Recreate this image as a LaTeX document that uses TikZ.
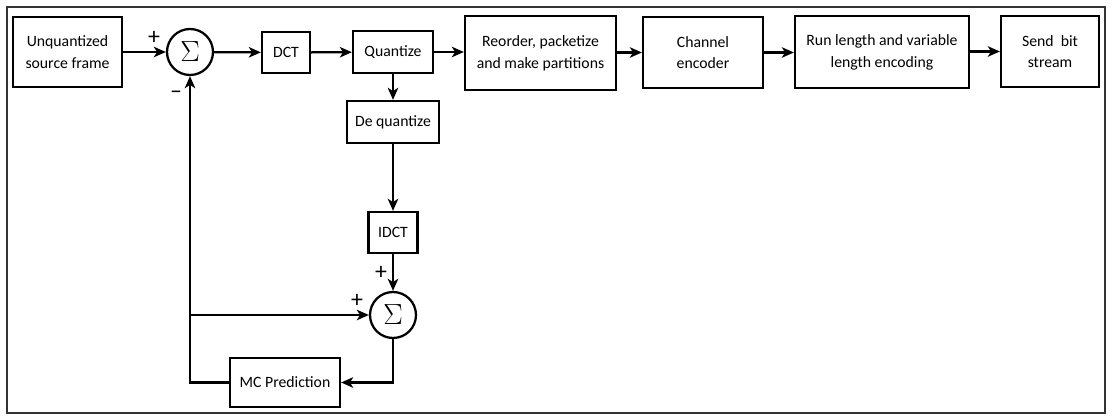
\documentclass[tikz,border=0pt]{standalone}
\usepackage{fontspec}
\setmainfont{Carlito}
\usetikzlibrary{arrows.meta}

\newcommand{\px}{0.025cm}

\begin{document}
\begin{tikzpicture}[x=0.025cm,y=-0.025cm,
    line width=1.6pt,
    >={Stealth[length=3mm,width=2.6mm,inset=0.8mm]},
    blk/.style 2 args={draw,align=center,inner sep=1pt,
        font=\fontsize{11.2}{15.5}\selectfont,
        minimum width=#1*\px,minimum height=#2*\px},
    summer/.style={draw,circle,inner sep=0pt,minimum size=46*\px,
        font=\fontsize{22}{22}\selectfont},
    sign/.style={inner sep=0pt,font=\fontsize{17}{17}\selectfont}]
    \providecommand{\sumsign}{$\Sigma$}
    % frame
    \useasboundingbox (0,0) rectangle (1113,419);
    \draw[line width=1.2pt,black!80] (7,7) rectangle (1105,413);
    % forward path
    \node[blk={109}{70}] (src) at (67.5,52) {Unquantized\\source frame};
    \node[summer] (sum1) at (190,52) {\sumsign};
    \node[blk={48}{41}] (dct) at (286,52.5) {DCT};
    \node[blk={80}{42}] (quant) at (393,52) {Quantize};
    \node[blk={151}{74}] (reord) at (540.5,53) {Reorder, packetize\\and make partitions};
    \node[blk={120}{71}] (chan) at (703,52.5) {Channel\\encoder};
    \node[blk={174}{72}] (run) at (882,52) {Run length and variable\\length encoding};
    \node[blk={98}{71}] (send) at (1050,51.5) {Send\ \ bit\\stream};
    % reconstruction loop
    \node[blk={92}{42}] (deq) at (393,122) {De quantize};
    \node[blk={49}{41}] (idct) at (393,232.5) {IDCT};
    \node[summer] (sum2) at (393,315) {\sumsign};
    \node[blk={110}{49}] (mc) at (285,382.5) {MC Prediction};
    \coordinate (tap) at (sum1 |- sum2);
    % signs
    \node[sign] (p1) at (154,38) {+};
    \node[sign] (m1) at (176,95) {\textendash};
    \node[sign] (p2) at (381,273) {+};
    \node[sign] (p3) at (357,301) {+};
    % connectors
    \draw[->] (src) -- (sum1);
    \draw[->] (sum1) -- (dct);
    \draw[->] (dct) -- (quant);
    \draw[->] (quant) -- (reord.west |- quant);
    \draw[->] (reord.east |- chan) -- (chan);
    \draw[->] (chan) -- (run.west |- chan);
    \draw[->] (run.east |- send) -- (send);
    \draw[->] (quant) -- (deq);
    \draw[->] (deq) -- (idct);
    \draw[->] (idct) -- (sum2);
    \draw[->] (sum2.south) |- (mc.east);
    \draw[->] (mc.west) -| (sum1.south);
    \draw[->] (tap) -- (sum2.west);
\end{tikzpicture}
\end{document}
